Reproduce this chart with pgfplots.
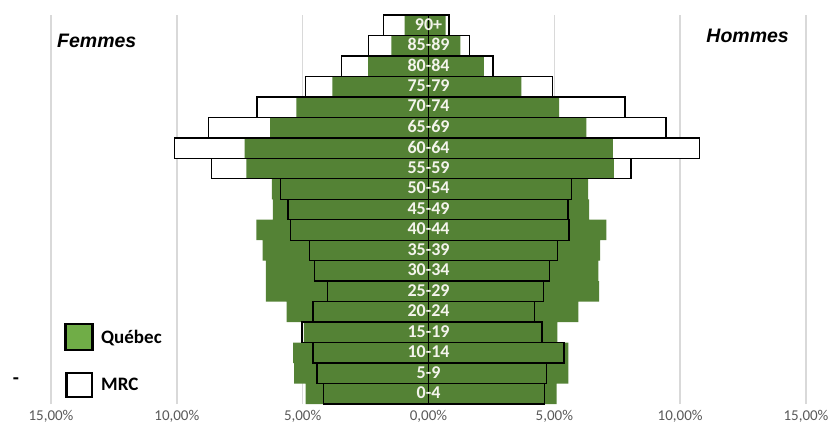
\documentclass[border=0pt]{standalone}
\usepackage{fontspec}
\setmainfont{Carlito}
\newfontfamily\arialfont{Liberation Sans}
\usepackage{pgfplots}
\usepackage{pgfplotstable}
\pgfplotsset{compat=1.18}
\definecolor{qgreen}{HTML}{548235}
\definecolor{lgreen}{HTML}{70AD47}
\definecolor{gridgray}{HTML}{D9D9D9}
\definecolor{ticktext}{HTML}{595959}
\definecolor{agetext}{HTML}{F4F4EC}
\pgfplotstableread{
y  qf     qh     mf      mh
0  -4.88  5.09  -4.17   4.62
1  -5.34  5.56  -4.43   4.70
2  -5.38  5.56  -4.59   5.38
3  -4.95  5.12  -5.03   4.51
4  -5.64  5.96  -4.59   4.22
5  -6.46  6.78  -4.02   4.56
6  -6.46  6.75  -4.52   4.81
7  -6.59  6.82  -4.74   5.13
8  -6.84  7.07  -5.48   5.58
9  -6.18  6.38  -5.58   5.54
10 -6.22  6.34  -5.89   5.68
11 -7.24  7.37  -8.62   8.04
12 -7.31  7.33  -10.10  10.77
13 -6.29  6.27  -8.74   9.43
14 -5.25  5.19  -6.82   7.80
15 -3.82  3.69  -4.88   4.93
16 -2.40  2.20  -3.46   2.57
17 -1.48  1.27  -2.38   1.63
18 -0.95  0.68  -1.78   0.82
}\data
\begin{document}
\begin{tikzpicture}
\path[use as bounding box] (0pt,0pt) rectangle (830pt,429pt);
\begin{axis}[
  at={(51pt,25pt)}, anchor=south west,
  width=755pt, height=389pt, scale only axis,
  xmin=-15, xmax=15, ymin=-0.5, ymax=18.5,
  axis line style={draw=none},
  major tick style={draw=none},
  ytick=\empty,
  xtick={-15,-10,-5,0,5,10,15},
  xticklabels={{15,00\%},{10,00\%},{5,00\%},{0,00\%},{5,00\%},{10,00\%},{15,00\%}},
  xticklabel style={font=\fontsize{15}{16}\selectfont, text=ticktext, yshift=-3pt},
  xmajorgrids,
  grid style={gridgray, line width=1.5pt},
  clip=false,
]
% MRC white fill (behind)
\addplot[xbar, bar shift=0pt, bar width=1, fill=white, draw=none] table[x=mf, y=y]{\data};
\addplot[xbar, bar shift=0pt, bar width=1, fill=white, draw=none] table[x=mh, y=y]{\data};
% Quebec green
\addplot[xbar, bar shift=0pt, bar width=1, fill=qgreen, draw=none] table[x=qf, y=y]{\data};
\addplot[xbar, bar shift=0pt, bar width=1, fill=qgreen, draw=none] table[x=qh, y=y]{\data};
% MRC outlines
\addplot[xbar, bar shift=0pt, bar width=1, fill=none, draw=black, line width=1.4pt] table[x=mf, y=y]{\data};
\addplot[xbar, bar shift=0pt, bar width=1, fill=none, draw=black, line width=1.4pt] table[x=mh, y=y]{\data};
% zero line
\addplot[black, line width=1.5pt, mark=none] coordinates {(0,-0.5) (0,18.5)};
% age labels
\begin{scope}[every node/.style={font=\bfseries\fontsize{18}{18}\selectfont, text=agetext, anchor=center}]
\node at (axis cs:0,0.05) {0-4};
\node at (axis cs:0,1.05) {5-9};
\node at (axis cs:0,2.05) {10-14};
\node at (axis cs:0,3.05) {15-19};
\node at (axis cs:0,4.05) {20-24};
\node at (axis cs:0,5.05) {25-29};
\node at (axis cs:0,6.05) {30-34};
\node at (axis cs:0,7.05) {35-39};
\node at (axis cs:0,8.05) {40-44};
\node at (axis cs:0,9.05) {45-49};
\node at (axis cs:0,10.05) {50-54};
\node at (axis cs:0,11.05) {55-59};
\node at (axis cs:0,12.05) {60-64};
\node at (axis cs:0,13.05) {65-69};
\node at (axis cs:0,14.05) {70-74};
\node at (axis cs:0,15.05) {75-79};
\node at (axis cs:0,16.05) {80-84};
\node at (axis cs:0,17.05) {85-89};
\node at (axis cs:0,18.05) {90+};
\end{scope}
\end{axis}
% titles
\node[anchor=base west, inner sep=0pt, font=\arialfont\bfseries\itshape\fontsize{19.5}{20}\selectfont] at (57pt,381pt) {Femmes};
\node[anchor=base east, inner sep=0pt, font=\arialfont\bfseries\itshape\fontsize{19.5}{20}\selectfont] at (789pt,386pt) {Hommes};
% legend
\draw[black, line width=2.6pt, fill=lgreen] (65.5pt,79pt) rectangle (92.5pt,105pt);
\node[anchor=west, inner sep=0pt, font=\bfseries\fontsize{19}{20}\selectfont] at (101pt,91pt) {Québec};
\draw[black, line width=2.6pt, fill=white] (66.5pt,32pt) rectangle (92pt,56pt);
\node[anchor=west, inner sep=0pt, font=\bfseries\fontsize{19}{20}\selectfont] at (101pt,45pt) {MRC};
\node[anchor=center, inner sep=0pt, font=\bfseries\fontsize{20}{20}\selectfont] at (16pt,48pt) {-};
\end{tikzpicture}
\end{document}
